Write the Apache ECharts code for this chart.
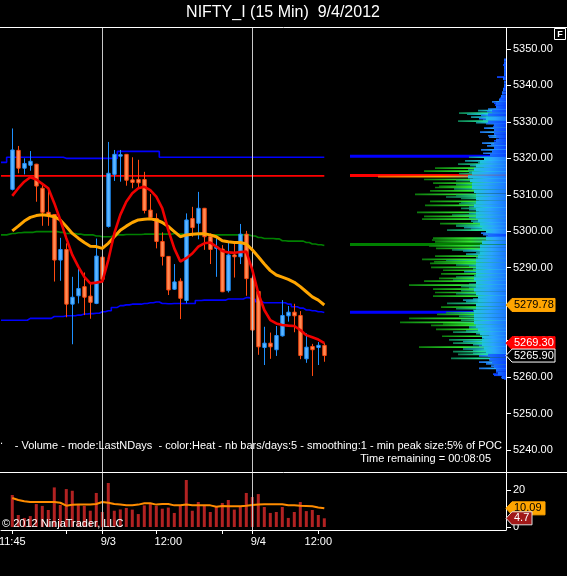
<!DOCTYPE html>
<html><head><meta charset="utf-8">
<script src="https://cdn.jsdelivr.net/npm/echarts@6/dist/echarts.min.js"></script>
<style>html,body{margin:0;padding:0;background:#000;}#c{width:567px;height:576px;}</style>
</head><body><div id="c"></div>
<script>
// ---------- DATA ----------
const opens = [5311.5,5322.2,5317.3,5318.1,5318.4,5311.8,5305.2,5304.6,5292.1,5295.0,
  5280.0,5282.3,5284.8,5282.2,5280.2,5292.9,5301.3,5315.6,5320.6,5321.1,
  5314.1,5314.2,5314.2,5305.8,5303.5,5297.2,5293.1,5284.1,5286.3,5281.0,
  5303.5,5302.2,5306.3,5298.6,5295.3,5295.1,5283.7,5293.5,5293.0,5299.2,
  5287.1,5283.5,5268.1,5269.3,5267.5,5271.3,5276.8,5277.8,5276.9,5265.0,
  5268.4,5268.1,5268.7];
const closes = [5322.3,5317.3,5318.6,5319.2,5312.4,5305.2,5304.5,5292.1,5295.0,5280.0,
  5281.9,5284.3,5281.9,5280.5,5293.2,5286.8,5315.9,5321.1,5321.0,5314.0,
  5313.4,5313.3,5305.7,5303.8,5297.2,5293.1,5283.9,5286.1,5281.6,5303.1,
  5301.0,5306.3,5298.5,5295.0,5295.7,5283.4,5293.5,5293.0,5299.2,5287.0,
  5272.9,5268.3,5269.3,5268.3,5271.4,5276.9,5277.8,5276.8,5265.9,5268.2,
  5267.5,5268.7,5265.9];
const highs = [5328.2,5323.4,5320.0,5322.0,5318.5,5312.7,5311.1,5304.7,5298.2,5296.7,
  5287.5,5290.3,5288.7,5285.7,5298.0,5295.8,5324.5,5322.3,5322.3,5321.2,
  5320.3,5319.6,5316.3,5310.2,5304.9,5299.7,5293.2,5291.0,5287.1,5304.9,
  5306.7,5310.8,5306.4,5299.4,5298.1,5296.2,5297.0,5296.7,5302.0,5300.1,
  5287.2,5283.6,5273.8,5272.2,5274.0,5281.1,5279.5,5280.1,5278.1,5272.0,
  5269.1,5269.6,5269.3];
const lows = [5311.2,5315.9,5315.6,5316.6,5308.1,5301.5,5301.5,5286.2,5286.4,5276.4,
  5269.0,5280.2,5277.0,5276.0,5280.0,5285.3,5301.0,5313.8,5313.6,5312.5,
  5311.8,5311.8,5304.9,5303.1,5295.3,5290.6,5282.5,5283.9,5275.9,5280.2,
  5298.5,5297.8,5294.9,5291.0,5287.5,5283.3,5283.2,5287.3,5291.0,5282.3,
  5272.0,5266.1,5263.3,5265.0,5265.8,5271.1,5275.2,5272.3,5264.9,5263.9,
  5260.3,5263.3,5264.2];
const volumes = [17.3,6.5,4.9,5.9,12.4,11.4,9.2,21.4,11.9,20.5,
  19.6,12.4,11.4,8.8,18.4,8.1,23.8,8.8,9.5,10.3,
  9.4,7.0,11.7,12.4,11.4,9.9,10.5,7.6,11.4,25.4,
  8.8,13.5,11.4,8.1,11.0,13.0,14.6,9.4,11.0,18.4,
  16.2,17.8,10.8,7.6,8.1,10.8,4.9,8.1,13.5,8.6,
  9.2,6.5,4.7];
const volMA = [15.7,14.6,13.9,13.5,13.5,13.5,13.5,13.5,13.1,11.5,
  12.0,12.1,12.1,12.1,12.4,13.5,13.1,12.4,12.1,11.7,
  11.7,12.1,12.8,12.8,12.1,12.4,12.4,11.7,11.7,12.1,
  11.7,11.7,11.7,11.7,11.0,11.4,11.2,11.2,11.2,11.5,
  11.9,12.1,12.3,12.3,12.3,12.3,11.7,11.7,11.5,11.4,
  11.2,10.6,10.09];
const redMA = [5309.7,5311.8,5313.6,5314.8,5314.2,5313.0,5311.8,5307.7,5303.1,5298.1,
  5293.5,5290.3,5287.5,5285.7,5285.9,5286.2,5292.1,5299.4,5304.5,5308.1,
  5310.4,5311.8,5312.2,5311.3,5309.5,5306.3,5300.3,5295.3,5291.7,5292.6,
  5293.9,5295.8,5296.7,5296.9,5295.8,5294.6,5294.2,5294.1,5294.3,5294.4,
  5289.4,5283.0,5278.4,5275.6,5274.7,5274.3,5274.1,5274.0,5272.9,5271.5,
  5270.9,5270.3,5269.3];
const orangeMA = [5300.1,5301.4,5302.8,5303.8,5304.3,5304.5,5304.3,5304.0,5303.1,5301.3,
  5299.4,5298.1,5296.9,5295.9,5295.8,5295.3,5296.7,5298.5,5300.3,5301.4,
  5302.4,5303.1,5303.3,5303.4,5303.1,5302.4,5301.3,5299.9,5298.5,5299.0,
  5299.2,5299.3,5299.3,5299.0,5298.5,5297.4,5297.1,5296.9,5296.9,5296.5,
  5294.9,5293.0,5291.0,5289.2,5288.0,5287.4,5286.8,5286.0,5284.8,5283.4,
  5282.0,5281.1,5279.78];
const greenPre = 5299.0;
const greenLine = [5299.4,5299.6,5299.7,5299.7,5299.9,5299.9,5299.9,5299.9,5299.7,5299.4,
  5299.4,5299.2,5299.0,5299.0,5298.7,5298.5,5298.5,5299.0,5299.0,5299.1,
  5299.1,5299.1,5299.2,5299.2,5299.2,5299.2,5299.2,5299.4,5299.2,5299.1,
  5299.1,5299.1,5299.1,5299.0,5299.0,5299.0,5299.0,5299.0,5299.0,5299.0,
  5298.7,5298.3,5298.0,5298.0,5297.9,5297.4,5297.3,5297.3,5297.3,5296.9,
  5296.5,5296.3,5296.1];
const upperPre = 5318.9;
const upperBlue = [5320.3,5320.3,5320.3,5320.3,5320.3,5320.3,5320.3,5320.3,5320.3,5320.0,
  5320.0,5320.0,5320.0,5320.0,5320.0,5320.0,5320.0,5320.0,5321.9,5321.9,
  5321.9,5321.9,5321.9,5321.9,5321.9,5320.3,5320.3,5320.3,5320.3,5320.3,
  5320.3,5320.3,5320.3,5320.3,5320.3,5320.3,5320.3,5320.3,5320.3,5320.3,
  5320.3,5320.3,5320.3,5320.3,5320.3,5320.3,5320.3,5320.3,5320.3,5320.3,
  5320.3,5320.3,5320.3];
const lowerPre = 5275.6;
const lowerBlue = [5275.6,5275.6,5275.6,5276.1,5276.1,5276.1,5276.1,5276.6,5276.6,5276.8,
  5276.8,5277.0,5277.3,5277.4,5277.5,5277.9,5278.2,5279.1,5279.6,5279.8,
  5280.0,5280.0,5280.2,5280.4,5280.6,5280.2,5280.1,5280.2,5280.2,5280.2,
  5280.2,5281.0,5281.1,5281.1,5281.1,5281.1,5281.4,5281.4,5281.4,5281.8,
  5281.3,5280.7,5280.4,5280.4,5280.4,5280.4,5280.0,5279.3,5278.9,5278.4,
  5278.2,5277.9,5277.7];
const redLevel = 5315.2;
// volume profile: [price, volume]
const profileRows = [
 [5347.0,2],[5346.3,2],[5345.6,3],[5344.3,2],[5343.5,2],[5342.3,9],[5341.8,2],[5339.5,2],[5337.8,4],[5336.5,6],
 [5336.0,7],[5335.5,14],[5335.1,12],[5334.6,11],[5334.2,8],[5333.8,7],[5333.5,18],[5333.1,28],[5332.8,19],[5332.4,47],
 [5332.1,39],[5331.8,25],[5331.3,35],[5330.9,27],[5330.5,23],[5330.2,48],[5329.8,30],[5329.5,20],[5329.1,10],[5328.7,13],
 [5328.3,22],[5327.8,10],[5327.2,26],[5326.7,12],[5326.2,18],[5325.8,17],[5325.3,7],[5324.8,12],[5324.2,24],[5323.8,15],
 [5323.4,19],[5322.9,5],[5322.3,25],[5321.8,10],[5321.4,23],[5321.0,13],[5320.3,37],[5319.8,13],[5319.3,41],[5318.8,28],
 [5318.4,48],[5318.0,36],[5317.6,22],[5317.3,71],[5316.8,38],[5316.5,82],[5316.2,37],[5315.8,47],[5315.0,128],[5314.6,33],
 [5314.2,82],[5313.9,50],[5313.5,33],[5313.2,73],[5312.7,50],[5312.3,67],[5312.0,71],[5311.6,52],[5311.1,76],[5310.8,30],
 [5310.1,91],[5309.8,50],[5309.4,60],[5309.0,45],[5308.7,27],[5308.2,76],[5307.8,45],[5307.5,47],[5307.1,81],[5306.6,37],
 [5306.3,45],[5305.9,37],[5305.6,27],[5305.2,89],[5304.8,37],[5304.4,54],[5304.1,82],[5303.7,37],[5303.3,84],[5302.8,35],
 [5302.5,33],[5302.1,66],[5301.7,50],[5301.4,50],[5301.0,42],[5300.6,35],[5300.3,59],[5299.9,20],[5299.5,25],[5299.1,23],
 [5298.6,20],[5298.1,73],[5297.6,74],[5297.1,71],[5296.0,77],[5295.3,70],[5294.9,54],[5294.6,43],[5294.1,30],[5293.7,40],
 [5293.2,71],[5292.7,30],[5292.3,84],[5291.9,60],[5291.6,72],[5291.2,76],[5290.8,50],[5290.5,37],[5290.1,75],[5289.6,33],
 [5289.3,63],[5288.9,42],[5288.3,65],[5287.8,32],[5287.4,50],[5287.1,67],[5286.6,53],[5286.3,82],[5285.8,30],[5285.4,37],
 [5285.2,97],[5284.8,45],[5284.4,37],[5284.1,73],[5283.7,45],[5283.2,71],[5282.9,50],[5282.5,30],[5282.2,73],[5281.8,27],
 [5281.4,33],[5281.1,43],[5280.7,40],[5280.2,59],[5279.8,23],[5279.2,65],[5278.8,50],[5278.3,33],[5277.7,60],[5277.2,69],
 [5276.7,47],[5276.1,97],[5275.6,45],[5275.0,106],[5274.6,63],[5274.2,75],[5273.8,37],[5273.4,37],[5273.1,70],[5272.6,40],
 [5272.3,53],[5271.9,30],[5271.5,17],[5271.2,64],[5270.7,22],[5270.2,57],[5269.7,43],[5269.3,53],[5268.9,33],[5268.5,27],
 [5268.2,87],[5267.7,43],[5267.4,33],[5267.0,53],[5266.5,33],[5266.2,48],[5265.8,27],[5265.1,55],[5264.7,17],[5264.1,27],
 [5263.6,20],[5263.0,15],[5262.4,27],[5261.9,8],[5261.4,10],[5260.8,13],[5260.5,12],[5259.9,5],[5259.5,2]];
// dense core of the profile, one value per point from coreTop downward
const coreTop = 5347;
const coreWidths = [2,2,2,2,2,3,2,2,3,4, 5,7,10,10,14,18,20,18,12,12, 12,10,10,12,12,14,16,22,26,30,
  32,34,38,36,34,34,32,30,30,30, 32,30,30,30,28,26,24,20,18,20, 24,26,26,26,28,30,30,30,30,30,
  32,30,30,32,30,28,28,30,30,32, 32,32,32,30,28,26,24,24,24,22, 20,18,16,14,12,10,8,4];
const pocLevels = [5320.6, 5315.3, 5296.4, 5277.8];
const pocColors = ['#0000FF', '#FF0000', '#008000', '#0000FF'];
const priceTicks = [5240,5250,5260,5270,5280,5290,5300,5310,5320,5330,5340,5350];
const volTicks = [0, 20];
const timeTickBars = [0, 9, 15, 24, 35, 40, 51];
const timeLabelBars = [0, 16, 26, 41, 51];
const timeLabelTexts = ['11:45', '9/3', '12:00', '9/4', '12:00'];
const sessionBars = [15, 40];

// ---------- CHART ----------
const FONT = '"Liberation Sans", Arial, sans-serif';
const X_MIN = -1.88, X_MAX = 82.28, POC_LEN = 156;
const chart = echarts.init(document.getElementById('c'), null, {renderer: 'canvas'});
const idx = a => a.map((v, i) => [i, v]);

function heatColors(L) {
  if (L >= 110) return ['#ff5a00', '#ffb000'];
  if (L >= 62) return ['#0c7a0c', '#30e830'];
  if (L >= 44) return ['#0c7a50', '#22e090'];
  if (L >= 28) return ['#108890', '#20d8e8'];
  if (L >= 14) return ['#1a6ae0', '#2aa8ff'];
  return ['#0a44ff', '#1a5cff'];
}
function renderProfile(params, api) {
  const L = api.value(0), p = api.value(1);
  const a = api.coord([L, p]), b = api.coord([0, p]);
  const c = heatColors(L);
  const fill = L < 14 ? c[0] : new echarts.graphic.LinearGradient(0, 0, 1, 0,
    [{offset: 0, color: c[0]}, {offset: 0.5, color: c[1]}, {offset: 1, color: '#2aa8ff'}]);
  return {type: 'rect', shape: {x: a[0], y: a[1] - 0.85, width: b[0] - a[0], height: 1.7}, style: {fill}};
}
function renderCore(params, api) {
  const W = api.value(0), p = api.value(1);
  const a = api.coord([W, p + 0.5]), b = api.coord([0, p - 0.5]);
  const fill = W >= 20
    ? new echarts.graphic.LinearGradient(0, 0, 1, 0, [{offset: 0, color: '#1fc4dc'}, {offset: 0.45, color: '#2aa4ff'}, {offset: 1, color: '#1a78ff'}])
    : new echarts.graphic.LinearGradient(0, 0, 1, 0, [{offset: 0, color: '#1a70ff'}, {offset: 1, color: '#0a48ff'}]);
  return {type: 'rect', shape: {x: a[0], y: a[1] + 0.4, width: b[0] - a[0], height: b[1] - a[1] - 0.4}, style: {fill}};
}
function renderPoc(params, api) {
  const p = api.value(1), i = params.dataIndex;
  const a = api.coord([api.value(0), p]), b = api.coord([0, p]);
  return {type: 'rect', shape: {x: a[0], y: a[1] - 1.5, width: b[0] - a[0], height: 3}, style: {fill: pocColors[i]}};
}
function renderCandle(params, api) {
  const i = api.value(0), o = api.value(1), c = api.value(2), l = api.value(3), h = api.value(4);
  const up = c >= o;
  const pO = api.coord([i, o]), pC = api.coord([i, c]), pL = api.coord([i, l]), pH = api.coord([i, h]);
  const x = Math.round(pO[0]) + 0.5;
  const top = Math.min(pO[1], pC[1]), bot = Math.max(pO[1], pC[1]);
  const edge = up ? '#1E90FF' : '#FF4A10';
  const fill = up ? '#5CB6FF' : '#FF8C55';
  return {type: 'group', children: [
    {type: 'line', shape: {x1: x, y1: pH[1], x2: x, y2: pL[1]}, style: {stroke: edge, lineWidth: 1}},
    {type: 'rect', shape: {x: x - 1.7, y: top, width: 3.4, height: Math.max(bot - top, 1)}, style: {fill: fill, stroke: edge, lineWidth: 1}}
  ]};
}
const sessionMark = {silent: true, symbol: 'none', label: {show: false},
  lineStyle: {color: '#c8c8c8', width: 1, type: 'solid'},
  data: sessionBars.map(b => ({xAxis: b}))};

const option = {
  backgroundColor: '#000',
  animation: false,
  textStyle: {fontFamily: FONT},
  grid: [
    {left: 1, right: 61, top: 28, height: 445, outerBoundsMode: 'none', containLabel: false},
    {left: 1, right: 61, top: 473, height: 57, outerBoundsMode: 'none', containLabel: false}
  ],
  xAxis: [
    {type: 'value', gridIndex: 0, min: X_MIN, max: X_MAX, show: false},
    {type: 'value', gridIndex: 1, min: X_MIN, max: X_MAX, position: 'bottom',
      axisLine: {show: true, onZero: false, lineStyle: {color: '#fff', width: 1}},
      axisTick: {show: true, length: 4, inside: false, lineStyle: {color: '#fff'}, customValues: timeTickBars},
      axisLabel: {show: true, color: '#fff', fontSize: 11, fontFamily: FONT, margin: 6, customValues: timeLabelBars,
        formatter: v => { const k = timeLabelBars.indexOf(Math.round(v)); return k >= 0 ? timeLabelTexts[k] : ''; }},
      splitLine: {show: false}},
    {type: 'value', gridIndex: 0, min: 0, max: 505, inverse: true, show: false}
  ],
  yAxis: [
    {type: 'value', gridIndex: 0, position: 'right', min: 5233.68, max: 5355.76,
      axisLine: {show: true, onZero: false, lineStyle: {color: '#fff', width: 1}},
      axisTick: {show: true, length: 5, lineStyle: {color: '#fff'}, customValues: priceTicks},
      axisLabel: {show: true, color: '#fff', fontSize: 11, fontFamily: FONT, margin: 7, customValues: priceTicks,
        formatter: v => v.toFixed(2)},
      splitLine: {show: false}},
    {type: 'value', gridIndex: 1, position: 'right', min: -1.62, max: 29.19,
      axisLine: {show: true, onZero: false, lineStyle: {color: '#fff', width: 1}},
      axisTick: {show: true, length: 5, lineStyle: {color: '#fff'}, customValues: volTicks},
      axisLabel: {show: true, color: '#fff', fontSize: 11, fontFamily: FONT, margin: 7, customValues: volTicks},
      splitLine: {show: false}}
  ],
  series: [
    {type: 'custom', name: 'poc', xAxisIndex: 2, yAxisIndex: 0, z: 1, silent: true,
      renderItem: renderPoc, encode: {x: 0, y: 1}, data: pocLevels.map(p => [POC_LEN, p])},
    {type: 'custom', name: 'profile', xAxisIndex: 2, yAxisIndex: 0, z: 2, silent: true,
      renderItem: renderProfile, encode: {x: 0, y: 1}, data: profileRows.map(r => [r[1], r[0]])},
    {type: 'custom', name: 'core', xAxisIndex: 2, yAxisIndex: 0, z: 3, silent: true,
      renderItem: renderCore, encode: {x: 0, y: 1}, data: coreWidths.map((w, k) => [w, coreTop - k])},
    {type: 'line', name: 'upper', xAxisIndex: 0, yAxisIndex: 0, z: 3, step: 'middle', showSymbol: false,
      lineStyle: {color: '#0000FF', width: 1.6}, data: [[X_MIN, upperPre]].concat(idx(upperBlue))},
    {type: 'line', name: 'lower', xAxisIndex: 0, yAxisIndex: 0, z: 3, step: 'middle', showSymbol: false,
      lineStyle: {color: '#0000FF', width: 1.6}, data: [[X_MIN, lowerPre]].concat(idx(lowerBlue))},
    {type: 'line', name: 'green', xAxisIndex: 0, yAxisIndex: 0, z: 3, step: 'middle', showSymbol: false,
      lineStyle: {color: '#008000', width: 1.6}, data: [[X_MIN, greenPre]].concat(idx(greenLine))},
    {type: 'line', name: 'redlevel', xAxisIndex: 0, yAxisIndex: 0, z: 3, showSymbol: false,
      lineStyle: {color: '#FF0000', width: 1.6}, data: [[X_MIN, redLevel], [closes.length - 1, redLevel]],
      markLine: sessionMark},
    {type: 'custom', name: 'candles', xAxisIndex: 0, yAxisIndex: 0, z: 4, renderItem: renderCandle,
      encode: {x: 0, y: [1, 2, 3, 4]},
      data: opens.map((o, i) => [i, o, closes[i], lows[i], highs[i]])},
    {type: 'line', name: 'orangeMA', xAxisIndex: 0, yAxisIndex: 0, z: 5, showSymbol: false,
      lineStyle: {color: '#FFA500', width: 3}, data: idx(orangeMA)},
    {type: 'line', name: 'redMA', xAxisIndex: 0, yAxisIndex: 0, z: 6, showSymbol: false,
      lineStyle: {color: '#F00000', width: 2.6}, data: idx(redMA)},
    {type: 'bar', name: 'vol', xAxisIndex: 1, yAxisIndex: 1, barWidth: 3, z: 2,
      itemStyle: {color: '#B22222'}, data: idx(volumes), markLine: sessionMark},
    {type: 'line', name: 'volMA', xAxisIndex: 1, yAxisIndex: 1, z: 3, showSymbol: false,
      lineStyle: {color: '#FF8C00', width: 2}, data: idx(volMA)}
  ]
};
chart.setOption(option);

// ---------- frame, texts and value flags ----------
const last = a => a[a.length - 1];
function flag(id, y, w, fill, stroke, txt, txtColor) {
  return [
    {type: 'polygon', id: id + 'p', z: 100, shape: {points: [[506, y], [512, y - 6.5], [512 + w, y - 6.5], [512 + w, y + 6.5], [512, y + 6.5]]},
      style: {fill: fill, stroke: stroke, lineWidth: 1}},
    {type: 'text', id: id + 't', z: 101, x: 514, y: y, style: {text: txt, fill: txtColor, font: '11px ' + FONT, textVerticalAlign: 'middle', textAlign: 'left'}}
  ];
}
const yP = v => chart.convertToPixel({yAxisIndex: 0}, v);
const yV = v => chart.convertToPixel({yAxisIndex: 1}, v);
const graphics = [
  {type: 'line', id: 'topb', z: 100, shape: {x1: 0, y1: 27.5, x2: 567, y2: 27.5}, style: {stroke: '#fff', lineWidth: 1}},
  {type: 'line', id: 'sep', z: 100, shape: {x1: 0, y1: 472.5, x2: 567, y2: 472.5}, style: {stroke: '#fff', lineWidth: 1}},
  {type: 'text', id: 'title', x: 283, y: 13, style: {text: 'NIFTY_I (15 Min)  9/4/2012', fill: '#fff', font: '16px ' + FONT, textAlign: 'center', textVerticalAlign: 'middle'}},
  {type: 'rect', id: 'fbox', shape: {x: 554.5, y: 28.5, width: 11, height: 11}, style: {fill: '#000', stroke: '#fff', lineWidth: 1}},
  {type: 'text', id: 'ftxt', x: 560, y: 34.5, style: {text: 'F', fill: '#fff', font: 'bold 9px ' + FONT, textAlign: 'center', textVerticalAlign: 'middle'}},
  {type: 'text', id: 'dot', x: 0, y: 446, style: {text: '.', fill: '#fff', font: '11px ' + FONT, textVerticalAlign: 'bottom'}},
  {type: 'text', id: 'ind', x: 502, y: 446, z: 100, style: {text: '- Volume - mode:LastNDays  - color:Heat - nb bars/days:5 - smoothing:1 - min peak size:5% of POC', fill: '#fff', font: '11px ' + FONT, textAlign: 'right', textVerticalAlign: 'middle'}},
  {type: 'text', id: 'trem', x: 491, y: 459, z: 100, style: {text: 'Time remaining = 00:08:05', fill: '#fff', font: '11px ' + FONT, textAlign: 'right', textVerticalAlign: 'middle'}},
  {type: 'text', id: 'copy', x: 2, y: 523.5, z: 100, style: {text: '\u00A9 2012 NinjaTrader, LLC', fill: '#fff', font: '11px ' + FONT, textAlign: 'left', textVerticalAlign: 'middle'}}
].concat(
  flag('f1', yP(last(orangeMA)), 43, '#FFA500', '#FFA500', last(orangeMA).toFixed(2), '#000'),
  flag('f2', yP(last(redMA)), 43, '#FF0000', '#FF0000', last(redMA).toFixed(2), '#fff'),
  flag('f3', yP(last(closes)), 43, '#000', '#fff', last(closes).toFixed(2), '#fff'),
  flag('f4', yV(last(volMA)), 33, '#FFA500', '#FFA500', last(volMA).toFixed(2), '#000'),
  flag('f5', yV(last(volumes)), 20, '#A01818', '#ddd', String(last(volumes)), '#fff')
);
chart.setOption({graphic: graphics});
</script>
</body></html>
